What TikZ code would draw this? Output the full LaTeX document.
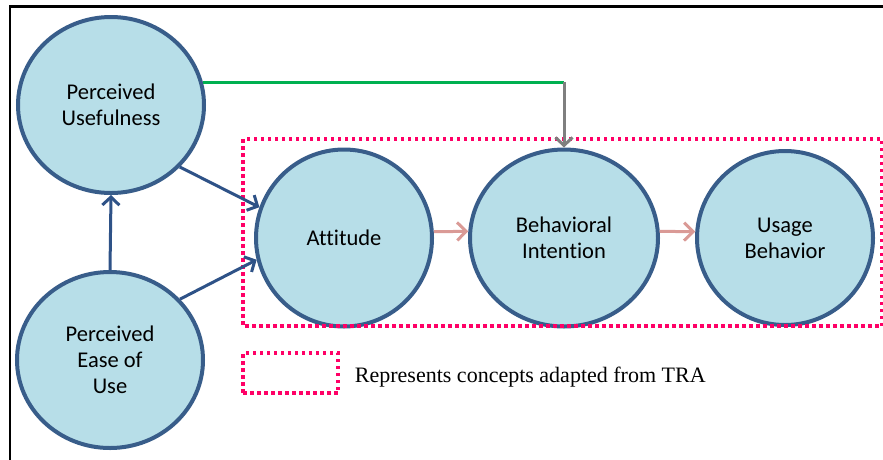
\documentclass[tikz,border=0pt]{standalone}
\usepackage{fontspec}
\setmainfont{Liberation Serif}
\newfontfamily\carlito[Ligatures=NoCommon]{Carlito}
\usetikzlibrary{shapes.geometric,arrows.meta,positioning}
\definecolor{cfill}{HTML}{B7DEE8}
\definecolor{cline}{HTML}{385D8A}
\definecolor{darrow}{HTML}{2E5287}
\definecolor{parrow}{HTML}{DA9A96}
\definecolor{tragreen}{HTML}{00B050}
\definecolor{tragrey}{HTML}{7F7F7F}
\definecolor{trapink}{HTML}{FF0066}
\begin{document}
\begin{tikzpicture}[x=1pt,y=-1pt,
    concept/.style={ellipse,draw=cline,fill=cfill,line width=4pt,inner sep=0pt,
        align=center,font=\carlito\fontsize{22.5}{26}\selectfont},
    link/.style={draw=darrow,line width=3pt,-{Straight Barb[length=8pt,width=17pt]}},
    flow/.style={draw=parrow,line width=3pt,-{Straight Barb[length=9pt,width=18pt]}},
    tra/.style={draw=trapink,line width=3.5pt,dash pattern=on 3.5pt off 3.5pt}]
    \useasboundingbox (0,0) rectangle (883,459);
    \clip (0,0) rectangle (883,459);

    \node[anchor=base,font=\fontsize{28}{32}\selectfont] (title) at (450,-6.5)
        {Figure 1: Technology Acceptance Model (TAM)};
    \draw[line width=2.5pt] (10,470) -- (10,6.5) -- (900,6.5);

    \node[concept,minimum width=186pt,minimum height=176pt] (pu) at (111,105) {Perceived\\Usefulness};
    \node[concept,minimum width=186pt,minimum height=176pt] (peou) at (110,360) {Perceived\\Ease of\\Use};
    \node[concept,minimum width=176pt,minimum height=177pt] (att) at (344,238) {Attitude};
    \node[concept,minimum width=188pt,minimum height=177pt] (bi) at (564,238) {Behavioral\\Intention};
    \node[concept,minimum width=176pt,minimum height=174pt] (ub) at (785,238) {Usage\\Behavior};

    \draw[tra] (243,139) rectangle (882,326);

    \draw[link] (peou.north) -- (pu.south);
    \draw[link] (pu.-42) -- (att.160);
    \draw[link] (peou.41) -- (att.194);
    \draw[flow] (att.4) -- (bi.176);
    \draw[flow] (bi.4) -- (ub.176);

    \coordinate (turn) at (bi.north |- pu.14);
    \draw[tragreen,line width=3pt] (pu.14) -- (turn);
    \draw[tragrey,line width=3pt,-{Straight Barb[length=8pt,width=17pt]}] (turn) -- (bi.north);

    \node[tra,minimum width=95pt,minimum height=40pt] (legbox) at (290.5,373) {};
    \node[right=15pt of legbox,inner sep=0pt,yshift=-4pt,font=\fontsize{22}{26}\selectfont] (legtext)
        {Represents concepts adapted from TRA};
\end{tikzpicture}
\end{document}
